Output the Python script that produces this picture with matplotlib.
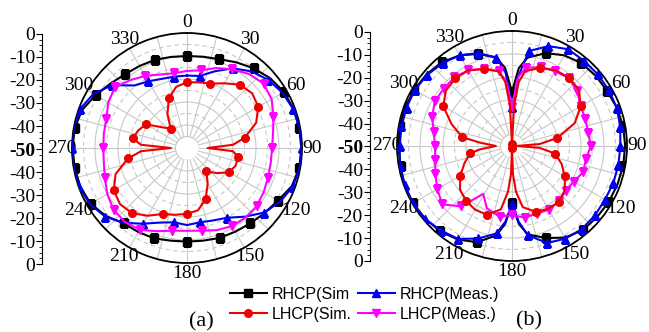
"""
Radiation patterns (a) and (b): RHCP / LHCP, simulated vs measured.
"""

import matplotlib.pyplot as plt
import numpy as np
from matplotlib.ticker import MultipleLocator

plt.rcParams['font.family'] = 'Liberation Serif'

# ---- data (angle in deg, gain in dB) ----
# (a)
a_rhcp_sim_ang = list(range(0, 360, 10))
a_rhcp_sim_db = [-10, -9.7, -8.9, -7, -4.8, -2.8, -1.3, -0.6, -0.4, -0.3, -0.4, -1.5,
                 -4.3, -6, -7.2, -8, -8.4, -9.1, -9.3, -9.1, -8.2, -7.8, -7.2, -4,
                 -1.6, -0.7, -0.4, -0.3, -0.4, -1.5, -4.1, -6.5, -8.1, -8.8, -9.2, -9.8]

a_rhcp_meas_ang = list(range(0, 360, 10))
a_rhcp_meas_db = [-18.5, -18.2, -14.5, -10, -6.5, -3.9, -2, -0.8, -0.3, 0, -0.3, -1,
                  -3.3, -6.3, -11, -15, -16.5, -17.2, -16.5, -17.2, -15.5, -12, -7.5, -3.6,
                  -1.2, -0.2, 0, 0, 0, -0.5, -3, -7.5, -14.5, -16.5, -18, -18.5]

a_lhcp_sim_ang = [0, 10, 20, 30, 40, 50, 60, 70, 80, 86, 90, 94, 100, 110, 120, 130, 140,
                  150, 160, 170, 180, 190, 200, 210, 220, 230, 240, 250, 260, 266, 270, 274,
                  280, 290, 300, 310, 320, 330, 340, 350]
a_lhcp_sim_db = [-21.4, -21, -20.2, -17.5, -14.1, -13, -14.2, -18, -24.6, -30, -41, -30,
                 -27.4, -27.5, -28.9, -33, -36.8, -32, -26.3, -22.5, -21.4, -20.5, -19.5, -16,
                 -13, -12, -13.2, -17, -24, -30, -43, -30,
                 -26, -27.5, -29.4, -36, -39, -33, -27, -23]

a_lhcp_meas_ang = list(range(0, 360, 10))
a_lhcp_meas_db = [-16.5, -15.7, -13, -10.5, -8, -6.5, -7.5, -10, -12, -13, -13, -12.5,
                  -11.5, -10.5, -10.5, -10.8, -12, -13.5, -14, -13.5, -11.5, -9, -8, -8.3,
                  -10, -12, -13.3, -13.6, -13.3, -12.7, -10.5, -9, -11.5, -13.8, -16, -17]

# (b)
b_rhcp_sim_ang = [0, 5, 10, 20, 30, 40, 50, 60, 70, 80, 90, 100, 110, 120, 130, 140, 150,
                  160, 170, 175, 180, 185, 190, 200, 210, 220, 230, 240, 250, 260, 270, 280,
                  290, 300, 310, 320, 330, 340, 350, 355]
b_rhcp_sim_db = [-26.5, -16, -11, -7, -4.5, -3, -2.5, -2.2, -1.5, -0.9, -0.8, -0.9, -1.2,
                 -1.4, -1.8, -2.2, -4, -7.4, -11, -16, -25, -16, -10.5, -5.5, -3, -1.5,
                 -0.8, -0.3, -0.3, -0.8, -0.6, -0.5, -0.6, -1, -1.5, -2.5, -4.5, -7.4, -11, -16]

b_rhcp_meas_ang = [0, 5, 10, 20, 30, 40, 50, 60, 70, 80, 90, 100, 110, 120, 130, 140, 150,
                   160, 170, 175, 180, 185, 190, 200, 210, 220, 230, 240, 250, 260, 270, 280,
                   290, 300, 310, 320, 330, 340, 350, 355]
b_rhcp_meas_db = [-33, -20, -8.1, -3.8, -1.4, -1.5, -1.4, -1.4, -1.5, -2.2, -2.9, -3, -3.1,
                  -3.3, -3, -2.8, -3.5, -5.1, -10.6, -17, -24.6, -17, -11.4, -7.2, -3.3, -2,
                  -0.6, -0.1, -0.3, -0.5, -1.2, -1.2, -1.2, -1.2, -1.9, -3, -4.5, -7, -11, -18]

b_lhcp_sim_ang = [0, 3, 6, 10, 20, 30, 40, 50, 60, 70, 80, 86, 90, 94, 100, 110, 120, 130,
                  140, 150, 160, 170, 175, 178, 180, 182, 185, 190, 200, 210, 220, 230, 240,
                  250, 260, 264, 270, 276, 280, 290, 300, 310, 320, 330, 340, 350, 354, 357]
b_lhcp_sim_db = [-49, -32, -22, -17, -13.8, -12, -11.3, -12, -15.5, -21, -30, -38, -48, -38,
                 -31, -27, -23.5, -20, -18.3, -18.5, -19.5, -23, -30, -37.7, -49, -37.7, -30,
                 -22, -18.2, -18, -18.9, -20.5, -24, -28, -31.4, -36, -43, -36, -28, -22,
                 -15.5, -12.5, -11.7, -12, -14.5, -17, -22, -32]

b_lhcp_meas_ang = [0, 5, 10, 20, 30, 40, 50, 60, 70, 80, 90, 100, 110, 120, 130, 140, 150,
                   160, 170, 180, 190, 202, 211, 220, 230, 240, 250, 260, 270, 280, 290, 300,
                   310, 320, 330, 340, 350, 355]
b_lhcp_meas_db = [-33, -20, -15.5, -13.5, -12.5, -11.5, -13, -15.5, -16, -16.3, -15.7, -17.4,
                  -17, -19, -19.5, -18.5, -18, -18.7, -18.4, -19.9, -18.8, -20.8, -25.7, -15.7,
                  -10.5, -12.5, -14.5, -16.1, -16.5, -15.5, -13, -11.3, -11.2, -11.1, -12,
                  -14.2, -17, -22]

labels = ['RHCP(Sim', 'RHCP(Meas.)', 'LHCP(Sim.', 'LHCP(Meas.)']


def setup_polar(ax):
    ax.set_theta_zero_location('N')
    ax.set_theta_direction(-1)
    ax.set_ylim(-50, 0)
    radii = np.arange(-45, 0, 5)
    ax.set_rgrids(radii, labels=[''] * len(radii))
    angs = np.arange(0, 360, 15)
    ax.set_thetagrids(angs, labels=[str(a) if a % 30 == 0 else '' for a in angs])
    for r, gl in zip(radii, ax.yaxis.get_gridlines()):
        gl.set_linestyle('-' if (r % 10 == 0 or r == -45) else (0, (4, 3)))
        gl.set_color('#c8c8c8')
        gl.set_linewidth(0.8)
    for gl in ax.xaxis.get_gridlines():
        gl.set_color('#c8c8c8')
        gl.set_linewidth(0.8)
    ax.tick_params(axis='x', labelsize=14, pad=-2.5, direction='out', length=3)
    ax.spines['polar'].set_linewidth(1.3)
    # blank hole in the middle
    th = np.linspace(0, 2 * np.pi, 200)
    ax.fill_between(th, -50, -45.4, color='white', zorder=1.7)


def draw(ax, ang, db, color, marker, step, offset, label):
    t = np.deg2rad(np.append(ang, 360))
    r = np.append(db, db[0])
    idx = [i for i, a in enumerate(ang) if a % step == offset]
    line, = ax.plot(t, r, color=color, marker=marker, markevery=idx, ms=5.5,
                    lw=1.5, label=label, zorder=3)
    return line


def setup_scale(fig, rect):
    ax = fig.add_axes(rect)
    ax.set_ylim(100, 0)
    ax.set_yticks(range(0, 101, 10))
    ax.set_yticklabels(['0', '-10', '-20', '-30', '-40', '-50', '-40', '-30', '-20', '-10', '0'])
    ax.yaxis.set_minor_locator(MultipleLocator(2.5))
    ax.tick_params(axis='y', labelsize=14, length=4, pad=1)
    ax.tick_params(axis='y', which='minor', length=2)
    for s in ['top', 'right', 'bottom']:
        ax.spines[s].set_visible(False)
    ax.set_xticks([])
    ax.patch.set_visible(False)
    ax.get_yticklabels()[5].set_fontweight('bold')
    return ax


fig = plt.figure(figsize=(6.49, 3.32), dpi=100)

# Panel (a)
ax1 = fig.add_axes([0.1109, 0.2078, 0.3544, 0.6928], projection='polar')
setup_polar(ax1)
h1 = draw(ax1, a_rhcp_sim_ang, a_rhcp_sim_db, 'black', 's', 20, 0, labels[0])
h2 = draw(ax1, a_rhcp_meas_ang, a_rhcp_meas_db, '#0000ee', '^', 20, 10, labels[1])
h4 = draw(ax1, a_lhcp_meas_ang, a_lhcp_meas_db, '#ff00ff', 'v', 20, 10, labels[3])
h3 = draw(ax1, a_lhcp_sim_ang, a_lhcp_sim_db, '#ee0000', 'o', 20, 0, labels[2])
setup_scale(fig, [0.0647, 0.2048, 0.01, 0.6928])

# Panel (b)
ax2 = fig.add_axes([0.6117, 0.2139, 0.3544, 0.6928], projection='polar')
setup_polar(ax2)
draw(ax2, b_rhcp_sim_ang, b_rhcp_sim_db, 'black', 's', 20, 0, labels[0])
draw(ax2, b_rhcp_meas_ang, b_rhcp_meas_db, '#0000ee', '^', 10, 0, labels[1])
draw(ax2, b_lhcp_meas_ang, b_lhcp_meas_db, '#ff00ff', 'v', 10, 0, labels[3])
draw(ax2, b_lhcp_sim_ang, b_lhcp_sim_db, '#ee0000', 'o', 20, 0, labels[2])
setup_scale(fig, [0.570, 0.2139, 0.01, 0.69])

leg = fig.legend([h1, h3, h2, h4], [labels[0], labels[2], labels[1], labels[3]],
                 ncol=2, loc='upper left', bbox_to_anchor=(0.337, 0.17), frameon=False,
                 prop={'family': 'Liberation Sans', 'size': 11.5}, handlelength=2.3,
                 handletextpad=0.3, columnspacing=0.4, labelspacing=0.3, borderpad=0.2)

fig.text(0.31, 0.03, '(a)', fontsize=16, ha='center', va='center')
fig.text(0.815, 0.035, '(b)', fontsize=16, ha='center', va='center')

plt.savefig('out.png', dpi=100)
